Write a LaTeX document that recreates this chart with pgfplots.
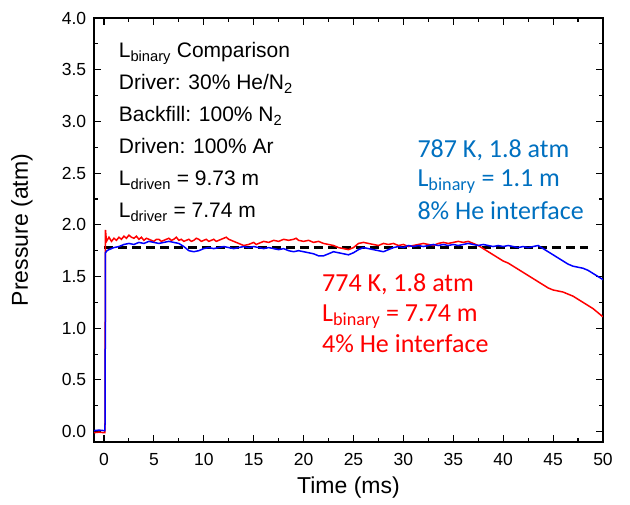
\documentclass[border=0pt]{standalone}
\usepackage{pgfplots}
\pgfplotsset{compat=1.18}
\usepackage{fontspec}
\setmainfont{Liberation Sans}
\newfontfamily\calibri{Carlito}
\definecolor{annblue}{RGB}{0,112,192}
\definecolor{annred}{RGB}{255,0,0}

\begin{document}
\begin{tikzpicture}
\useasboundingbox (-94pt,-63pt) rectangle (536pt,442pt);
\begin{axis}[
  at={(0,0)}, anchor=south west,
  scale only axis, width=509pt, height=424pt,
  xmin=-1, xmax=50, ymin=-0.1, ymax=4.0,
  xtick={0,5,...,50}, ytick={0,0.5,...,4},
  minor x tick num=1, minor y tick num=1,
  tick align=inside,
  major tick length=7pt, minor tick length=4pt,
  every tick/.style={black, line width=1.1pt},
  axis line style={line width=1.5pt},
  /pgf/number format/assume math mode=true,
  yticklabel style={/pgf/number format/fixed, /pgf/number format/fixed zerofill, /pgf/number format/precision=1, xshift=-4.3pt},
  xticklabel style={yshift=-7.5pt},
  ticklabel style={font=\fontsize{17.5}{20}\selectfont},
  xlabel={Time (ms)}, ylabel={Pressure (atm)},
  label style={font=\fontsize{23}{27}\selectfont},
  xlabel style={at={(axis description cs:0.5,0)}, anchor=center, yshift=-46pt},
  ylabel style={at={(axis description cs:0,0.5)}, anchor=center, rotate=0, yshift=72pt},
]
% dashed reference
\addplot[black, line width=2.2pt, dash pattern=on 9pt off 5pt] coordinates {(0,1.78) (48.5,1.78)};
% red trace
\addplot[red, line width=1.5pt] coordinates {
(-1.0,-0.01) (-0.5,-0.005) (0.0,-0.01) (0.1,-0.01) (0.15,1.95) (0.25,1.84) (0.5,1.88) (0.75,1.84)
(1.0,1.87) (1.25,1.85) (1.5,1.88) (1.75,1.86) (2.0,1.89) (2.25,1.87) (2.5,1.90) (2.75,1.88)
(3.0,1.87) (3.25,1.89) (3.5,1.86) (3.75,1.88) (4.0,1.85) (4.25,1.87) (4.5,1.86) (4.75,1.85) (5.0,1.84) (5.25,1.86) (5.5,1.86)
(5.75,1.84) (6.0,1.85) (6.25,1.86) (6.5,1.87) (6.75,1.85) (7.0,1.86) (7.25,1.88) (7.5,1.85) (7.75,1.86) (8.0,1.84) (8.25,1.85) (8.5,1.86) (8.75,1.84) (9.0,1.85) (9.25,1.87) (9.5,1.86)
(9.75,1.84) (10,1.85) (10.25,1.86) (10.5,1.84) (10.75,1.85) (11,1.86) (11.25,1.84) (11.5,1.85) (11.75,1.86) (12,1.87) (12.25,1.88) (12.5,1.86) (12.75,1.85) (13,1.84) (13.5,1.82)
(14,1.80) (14.5,1.81) (15,1.83) (15.25,1.81) (15.5,1.82) (16,1.84) (16.5,1.83) (17,1.85) (17.5,1.84)
(18,1.86) (18.5,1.85) (19,1.86) (19.25,1.87) (19.5,1.85) (20,1.84) (20.5,1.85) (21,1.83) (21.5,1.84)
(22,1.82) (22.5,1.81) (23,1.80) (23.5,1.78) (24,1.77) (24.5,1.76) (25,1.78) (25.5,1.82)
(26,1.83) (26.5,1.82) (27,1.81) (27.5,1.80) (28,1.82) (28.5,1.81) (29,1.82) (29.5,1.80)
(30,1.81) (30.5,1.79) (31,1.80) (31.5,1.81) (32,1.82) (32.5,1.81) (33,1.80) (33.5,1.82)
(34,1.83) (34.5,1.82) (35,1.83) (35.5,1.84) (36,1.83) (36.5,1.84) (37,1.82) (37.5,1.80)
(38,1.77) (38.5,1.74) (39,1.71) (39.5,1.68) (40,1.65) (40.5,1.63) (41,1.60) (41.5,1.57)
(42,1.54) (42.5,1.51) (43,1.48) (43.5,1.45) (44,1.42) (44.5,1.39) (45,1.37) (45.5,1.36)
(46,1.35) (46.5,1.33) (47,1.31) (47.5,1.28) (48,1.25) (48.5,1.22) (49,1.19) (49.5,1.15) (50,1.11)
};
% blue trace
\addplot[blue, line width=1.5pt] coordinates {
(-1.0,0.01) (-0.5,0.015) (0.0,0.01) (0.1,0.01) (0.12,0.5) (0.15,1.73) (0.3,1.75) (0.5,1.76)
(0.75,1.77) (1.0,1.78) (1.5,1.79) (2.0,1.81) (2.5,1.82) (3.0,1.81) (3.5,1.83) (4.0,1.82)
(4.5,1.84) (5.0,1.83) (5.5,1.82) (6.0,1.83) (6.5,1.84) (7.0,1.83) (7.5,1.82) (8.0,1.79)
(8.5,1.75) (9.0,1.74) (9.5,1.75) (10,1.77) (10.5,1.78) (11,1.77) (11.5,1.78) (12,1.79)
(12.5,1.78) (13,1.77) (13.5,1.78) (14,1.79) (14.5,1.78) (15,1.79) (15.5,1.78) (16,1.77)
(16.5,1.78) (17,1.77) (17.5,1.76) (18,1.77) (18.5,1.75) (19,1.74) (19.5,1.75) (20,1.74)
(20.5,1.73) (21,1.72) (21.5,1.70) (22,1.70) (22.5,1.72) (23,1.74) (23.5,1.73) (24,1.72)
(24.5,1.71) (25,1.73) (25.5,1.76) (26,1.78) (26.5,1.77) (27,1.76) (27.5,1.75) (28,1.74)
(28.5,1.76) (29,1.78) (29.5,1.79) (30,1.78) (30.5,1.80) (31,1.79) (31.5,1.80) (32,1.79)
(32.5,1.80) (33,1.81) (33.5,1.80) (34,1.81) (34.5,1.80) (35,1.81) (35.5,1.80) (36,1.81)
(36.5,1.82) (37,1.81) (37.5,1.80) (38,1.81) (38.5,1.80) (39,1.79) (39.5,1.80) (40,1.79)
(40.5,1.80) (41,1.79) (41.5,1.78) (42,1.79) (42.5,1.78) (43,1.79) (43.5,1.80) (44,1.77)
(44.5,1.74) (45,1.71) (45.5,1.68) (46,1.65) (46.5,1.62) (47,1.60) (47.5,1.59) (48,1.58)
(48.5,1.56) (49,1.53) (49.5,1.50) (50,1.47)
};
% info box text
\begin{scope}[every node/.style={anchor=base west, inner sep=0pt, font=\fontsize{21}{25}\selectfont}]
\node at (axis cs:1.47,3.614) {L\textsubscript{binary} Comparison};
\node at (axis cs:1.47,3.304) {Driver: 30\% He/N\textsubscript{2}};
\node at (axis cs:1.47,2.995) {Backfill: 100\% N\textsubscript{2}};
\node at (axis cs:1.47,2.686) {Driven: 100\% Ar};
\node at (axis cs:1.47,2.377) {L\textsubscript{driven} = 9.73 m};
\node at (axis cs:1.47,2.068) {L\textsubscript{driver} = 7.74 m};
\end{scope}
\begin{scope}[every node/.style={anchor=base west, inner sep=0pt, font=\calibri\fontsize{26}{30}\selectfont}]
\node[text=annblue] at (axis cs:31.4,2.647) {787 K, 1.8 atm};
\node[text=annblue] at (axis cs:31.4,2.367) {L\textsubscript{binary} = 1.1 m};
\node[text=annblue] at (axis cs:31.4,2.048) {8\% He interface};
\node[text=annred] at (axis cs:21.84,1.353) {774 K, 1.8 atm};
\node[text=annred] at (axis cs:21.84,1.063) {L\textsubscript{binary} = 7.74 m};
\node[text=annred] at (axis cs:21.84,0.763) {4\% He interface};
\end{scope}
\end{axis}
\end{tikzpicture}
\end{document}
